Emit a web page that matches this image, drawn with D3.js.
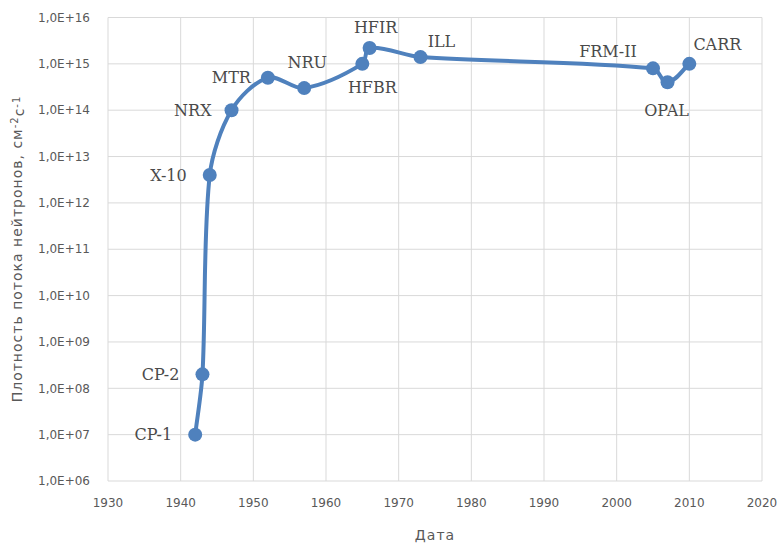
<!DOCTYPE html>
<html>
<head>
<meta charset="utf-8">
<script src="https://cdn.jsdelivr.net/npm/d3@7"></script>
<style>
  body { margin: 0; background: #fff; }
  svg { display: block; }
  .tick-label { font-family: "DejaVu Sans", sans-serif; font-size: 12px; fill: #595959; }
  .axis-title { font-family: "DejaVu Sans", sans-serif; font-size: 14px; fill: #595959; letter-spacing: 1px; }
  .point-label { font-family: "DejaVu Serif", serif; font-size: 16px; fill: #4a4a4a; }
</style>
</head>
<body>
<svg></svg>
<script>
// reactors, year of start and neutron flux (cm^-2 s^-1)
const reactors = ['CP-1', 'CP-2', 'X-10', 'NRX', 'MTR', 'NRU', 'HFBR', 'HFIR', 'ILL', 'FRM-II', 'OPAL', 'CARR'];
const years = [1942, 1943, 1944, 1947, 1952, 1957, 1965, 1966, 1973, 2005, 2007, 2010];
const flux = [1e7, 2e8, 4e12, 1e14, 5e14, 3e14, 1e15, 2.2e15, 1.4e15, 8e14, 4e14, 1e15];

const xTicks = [1930, 1940, 1950, 1960, 1970, 1980, 1990, 2000, 2010, 2020];
const yTicks = [1e6, 1e7, 1e8, 1e9, 1e10, 1e11, 1e12, 1e13, 1e14, 1e15, 1e16];

const width = 781, height = 543;
const plot = {left: 108, right: 762, top: 17.5, bottom: 481};

const svg = d3.select('svg')
    .attr('width', width)
    .attr('height', height);

const xScale = d3.scaleLinear()
    .domain([1930, 2020])
    .range([plot.left, plot.right]);

const yScale = d3.scaleLog()
    .domain([1e6, 1e16])
    .range([plot.bottom, plot.top]);

// gridlines
svg.append('g')
    .selectAll('line')
    .data(xTicks)
    .enter()
    .append('line')
        .attr('x1', d => xScale(d)).attr('x2', d => xScale(d))
        .attr('y1', plot.top).attr('y2', plot.bottom)
        .attr('stroke', '#d9d9d9')
        .attr('stroke-width', 1);

svg.append('g')
    .selectAll('line')
    .data(yTicks)
    .enter()
    .append('line')
        .attr('x1', plot.left).attr('x2', plot.right)
        .attr('y1', d => yScale(d)).attr('y2', d => yScale(d))
        .attr('stroke', '#d9d9d9')
        .attr('stroke-width', 1);

// tick labels
const fmtExp = d => '1,0E+' + String(Math.round(Math.log10(d))).padStart(2, '0');

svg.append('g')
    .selectAll('text')
    .data(yTicks)
    .enter()
    .append('text')
        .classed('tick-label', true)
        .attr('x', plot.left - 18)
        .attr('y', d => yScale(d))
        .attr('dy', '0.35em')
        .attr('text-anchor', 'end')
        .text(fmtExp);

svg.append('g')
    .selectAll('text')
    .data(xTicks)
    .enter()
    .append('text')
        .classed('tick-label', true)
        .attr('x', d => xScale(d))
        .attr('y', plot.bottom + 22)
        .attr('dy', '0.35em')
        .attr('text-anchor', 'middle')
        .text(d => d);

// axis titles
svg.append('text')
    .classed('axis-title', true)
    .attr('x', xScale(1975))
    .attr('y', 535)
    .attr('dy', '0.35em')
    .attr('text-anchor', 'middle')
    .text('Дата');

const yt = svg.append('text')
    .classed('axis-title', true)
    .attr('transform', `translate(17, 249) rotate(-90)`)
    .attr('dy', '0.35em')
    .attr('text-anchor', 'middle');
yt.append('tspan').text('Плотность потока нейтронов, см');
yt.append('tspan').attr('dy', '-0.4em').style('font-size', '10px').text('-2');
yt.append('tspan').attr('dy', '0.4em').text('с');
yt.append('tspan').attr('dy', '-0.4em').style('font-size', '10px').text('-1');

// smoothed line roughly like a spreadsheet's: tangent along the neighbours,
// control handles scaled by the segment's own length
function curveSmooth(context) {
    let pts = [];
    return {
        areaStart() {}, areaEnd() {},
        lineStart() { pts = []; },
        point(x, y) { pts.push([+x, +y]); },
        lineEnd() {
            const n = pts.length;
            if (!n) return;
            const dir = pts.map((p, i) => {
                const a = pts[Math.max(i - 1, 0)], b = pts[Math.min(i + 1, n - 1)];
                const dx = b[0] - a[0], dy = b[1] - a[1], l = Math.hypot(dx, dy) || 1;
                return [dx / l, dy / l];
            });
            context.moveTo(pts[0][0], pts[0][1]);
            for (let i = 0; i < n - 1; i++) {
                const p = pts[i], q = pts[i + 1];
                const k = Math.hypot(q[0] - p[0], q[1] - p[1]) * 0.3;
                context.bezierCurveTo(
                    p[0] + dir[i][0] * k, p[1] + dir[i][1] * k,
                    q[0] - dir[i + 1][0] * k, q[1] - dir[i + 1][1] * k,
                    q[0], q[1]);
            }
        }
    };
}

const data = years.map((y, i) => ({name: reactors[i], year: y, flux: flux[i]}));

const line = d3.line()
    .x(d => xScale(d.year))
    .y(d => yScale(d.flux))
    .curve(curveSmooth);

svg.append('path')
    .datum(data)
    .attr('d', line)
    .attr('fill', 'none')
    .attr('stroke', '#4f81bd')
    .attr('stroke-width', 4)
    .attr('stroke-linejoin', 'round');

svg.append('g')
    .selectAll('circle')
    .data(data)
    .enter()
    .append('circle')
        .attr('cx', d => xScale(d.year))
        .attr('cy', d => yScale(d.flux))
        .attr('r', 7)
        .attr('fill', '#4f81bd');

// point labels, placed around each marker
const labelOffset = {
    'CP-1':   {dx: -23, dy: 0, anchor: 'end'},
    'CP-2':   {dx: -23, dy: 0, anchor: 'end'},
    'X-10':   {dx: -23, dy: 0, anchor: 'end'},
    'NRX':    {dx: -20, dy: 0, anchor: 'end'},
    'MTR':    {dx: -17, dy: 0, anchor: 'end'},
    'NRU':    {dx: 3, dy: -26, anchor: 'middle'},
    'HFBR':   {dx: 10, dy: 24, anchor: 'middle'},
    'HFIR':   {dx: 6, dy: -21, anchor: 'middle'},
    'ILL':    {dx: 21, dy: -16, anchor: 'middle'},
    'FRM-II': {dx: -45, dy: -17, anchor: 'middle'},
    'OPAL':   {dx: -1, dy: 28, anchor: 'middle'},
    'CARR':   {dx: 28, dy: -19, anchor: 'middle'}
};

svg.append('g')
    .selectAll('text')
    .data(data)
    .enter()
    .append('text')
        .classed('point-label', true)
        .attr('x', d => xScale(d.year) + labelOffset[d.name].dx)
        .attr('y', d => yScale(d.flux) + labelOffset[d.name].dy)
        .attr('dy', '0.35em')
        .attr('text-anchor', d => labelOffset[d.name].anchor)
        .text(d => d.name);
</script>
</body>
</html>
